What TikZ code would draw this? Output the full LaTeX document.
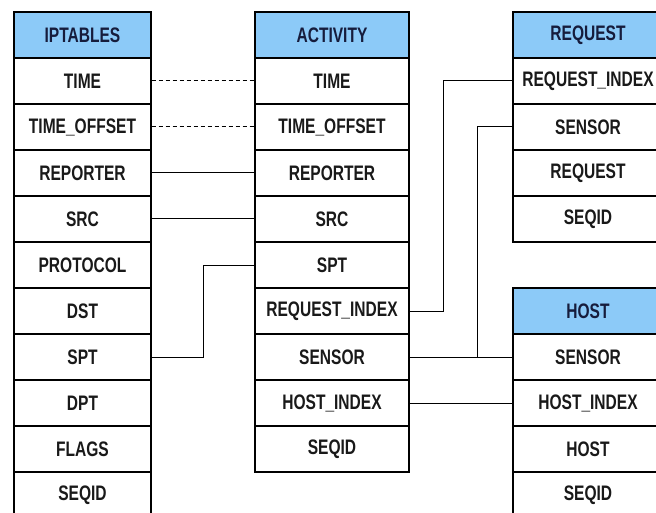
\documentclass[tikz,border=0pt]{standalone}
\usepackage{fontspec}
\setmainfont[FakeStretch=0.74]{Liberation Sans}
\usepackage{tikz}
\usetikzlibrary{calc}
\definecolor{headblue}{RGB}{140,202,248}
\definecolor{headtext}{RGB}{22,28,60}
\def\rowh{46}
\tikzset{
  cell/.style={draw, line width=1.1pt, inner sep=0pt, minimum height=46pt,
    font=\fontsize{21}{21}\selectfont\bfseries, text=black!90},
  head/.style={cell, fill=headblue, text=headtext},
  link/.style={line width=1pt},
  dlink/.style={link, dash pattern=on 4.5pt off 2.5pt}
}

\begin{document}
\begin{tikzpicture}[x=1pt,y=-1pt]
    \useasboundingbox (0,0) rectangle (656,513);
    \begin{scope}
        \clip (0,0) rectangle (656,513);
        \node[head, minimum width=137pt] (ipt-0) at (82.5,35) {IPTABLES};
        \foreach \t [count=\i] in {TIME,TIME\_OFFSET,REPORTER,SRC,PROTOCOL,DST,SPT,DPT,FLAGS,SEQID}
            \node[cell, minimum width=137pt] (ipt-\i) at (82.5,35+\i*\rowh) {\t};
        \node[head, minimum width=154pt] (act-0) at (332,35) {ACTIVITY};
        \foreach \t [count=\i] in {TIME,TIME\_OFFSET,REPORTER,SRC,SPT,REQUEST\_INDEX,SENSOR,HOST\_INDEX,SEQID}
            \node[cell, minimum width=154pt] (act-\i) at (332,35+\i*\rowh) {\t};
        \node[head, minimum width=150pt] (req-0) at (588,35) {REQUEST};
        \foreach \t [count=\i] in {REQUEST\_INDEX,SENSOR,REQUEST,SEQID}
            \node[cell, minimum width=150pt] (req-\i) at (588,35+\i*\rowh) {\t};
        \node[head, minimum width=150pt] (hst-0) at (588,311) {HOST};
        \foreach \t [count=\i] in {SENSOR,HOST\_INDEX,HOST,SEQID}
            \node[cell, minimum width=150pt] (hst-\i) at (588,311+\i*\rowh) {\t};
    \end{scope}
    \draw[dlink] (ipt-1.east) -- (act-1.west);
    \draw[dlink] (ipt-2.east) -- (act-2.west);
    \draw[link] (ipt-3.east) -- (act-3.west);
    \draw[link] (ipt-4.east) -- (act-4.west);
    \draw[link] (ipt-7.east) -- ++(52,0) |- (act-5.west);
    \draw[link] (act-6.east) -- ++(34,0) |- (req-1.west);
    \draw[link] (act-7.east) -- (hst-1.west);
    \draw[link] (req-2.west) -- ++(-35,0) coordinate (jn) -- (jn |- hst-1.west);
    \draw[link] (act-8.east) -- (hst-2.west);
\end{tikzpicture}
\end{document}
